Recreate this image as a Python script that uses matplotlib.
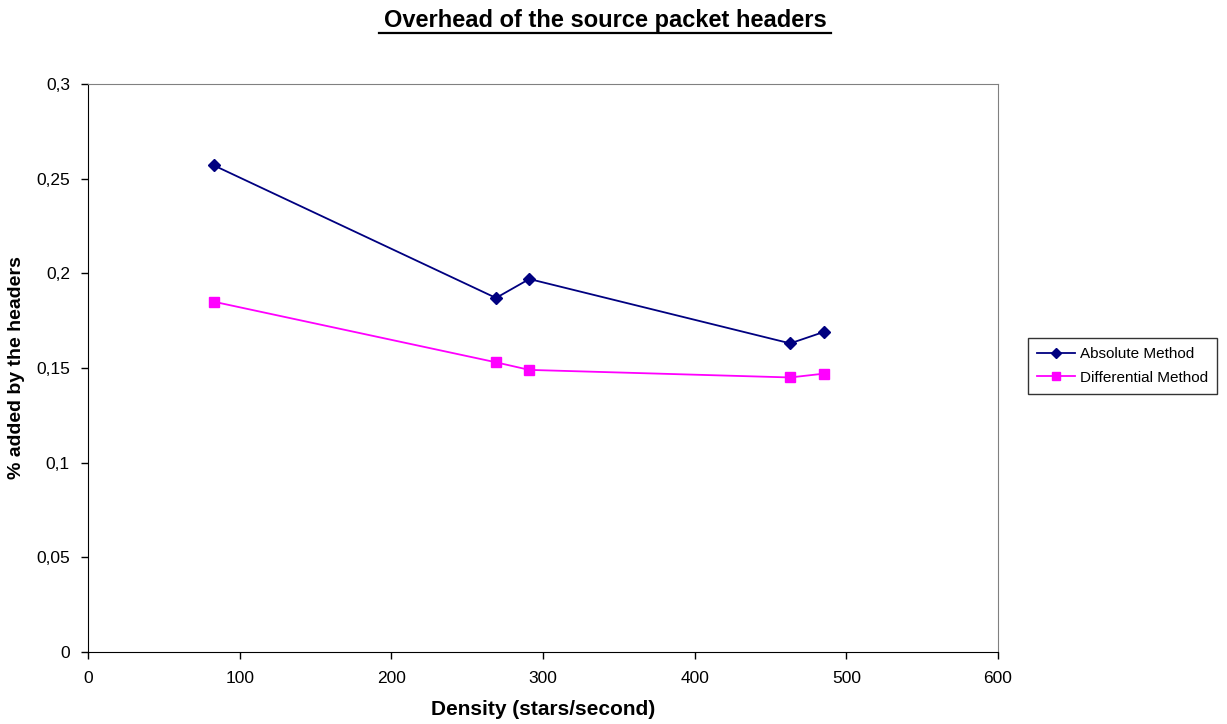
import matplotlib
matplotlib.use("Agg")
import matplotlib.pyplot as plt
from matplotlib.lines import Line2D
from matplotlib.ticker import FuncFormatter

# data
density=[83,269,291,463,485]
absolute=[0.257,0.187,0.197,0.163,0.169]
differential=[0.185,0.153,0.149,0.145,0.147]

plt.rcParams['font.family']=['Liberation Sans','DejaVu Sans']

fig=plt.figure(figsize=(12.27,7.24),dpi=100)
ax=fig.add_axes([88/1227,1-652/724,910/1227,568/724])

ax.plot(density,absolute,color='#000080',marker='D',markersize=6,lw=1.3,label='Absolute Method')
ax.plot(density,differential,color='#FF00FF',marker='s',markersize=7,lw=1.3,label='Differential Method')

ax.set_xlim(0,600)
ax.set_ylim(0,0.3)
ax.set_xticks(range(0,601,100))
ax.set_yticks([0,0.05,0.1,0.15,0.2,0.25,0.3])
ax.yaxis.set_major_formatter(FuncFormatter(lambda v,p:('%g'%round(v,2)).replace('.',',')))
ax.tick_params(labelsize=12.5,direction='out',length=5,width=1,color='black')
ax.tick_params(axis='x',pad=9)
ax.tick_params(axis='y',pad=8)

for s in ['top','right']:
    ax.spines[s].set_color('#808080')
for s in ['left','bottom']:
    ax.spines[s].set_color('black')

ax.set_xlabel('Density (stars/second)',fontsize=15,fontweight='bold',labelpad=10)
ax.set_ylabel('% added by the headers',fontsize=14,fontweight='bold',labelpad=8)

fig.text(605/1227,1-20/724,'Overhead of the source packet headers',ha='center',va='center',fontsize=17,fontweight='bold')
fig.add_artist(Line2D([379/1227,831/1227],[1-33/724,1-33/724],color='black',lw=1.6,transform=fig.transFigure))

leg=ax.legend(loc='center left',bbox_to_anchor=(1028/1227,1-366/724),bbox_transform=fig.transFigure,
              fontsize=11,frameon=True,fancybox=False,edgecolor='black',borderpad=0.6,handlelength=2.5,
              handletextpad=0.3,labelspacing=0.6,markerscale=0.8,borderaxespad=0)
leg.get_frame().set_linewidth(1)

plt.savefig('out.png',dpi=100)
